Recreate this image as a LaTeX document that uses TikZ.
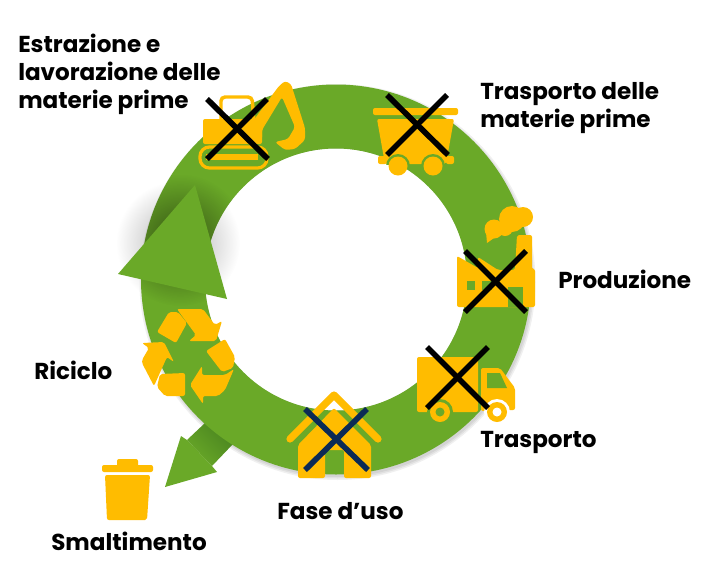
\documentclass[tikz,border=0pt]{standalone}
\usepackage{fontspec}
\setmainfont{Poppins}
\usetikzlibrary{fadings}
\definecolor{ringgreen}{HTML}{6AA928}
\definecolor{darkgreen}{HTML}{4A8520}
\definecolor{gold}{HTML}{FFBC00}
\definecolor{navy}{HTML}{0B2A55}
\tikzfading[name=softblob, inner color=transparent!50, outer color=transparent!100]
\tikzfading[name=softblobw, inner color=transparent!68, outer color=transparent!100]
\tikzset{
    mylabel/.style = {anchor=west, align=left, font=\bfseries\fontsize{17.3}{21}\selectfont, text=black, inner sep=0pt},
    icon/.style = {fill=gold, rounded corners=1.5pt},
    hole/.style = {fill=ringgreen},
    mycross/.style = {draw=black, line width=4.2pt},
    mycrossn/.style = {draw=navy, line width=4.2pt},
}
\begin{document}
\begin{tikzpicture}[x=0.75pt, y=-0.75pt]
\useasboundingbox (0,0) rectangle (714,586);
\fill[white] (0,0) rectangle (714,586);
% soft shadows
\foreach \r in {198,196.5,195}
    \fill[black, opacity=0.06] (337.5,282) circle[radius=\r];
\fill[white] (336,279.5) circle[radius=131];
\fill[black, path fading=softblobw] (178,243) circle[radius=62];
% arrow out to the bin
\fill[ringgreen] (187,440) -- (181,436) -- (165,487) -- (217,472) -- (212,466) -- cycle;
\shade[top color=darkgreen, bottom color=ringgreen, shading angle=315] (187,440) -- (212,466) -- (233,444) -- (205,423) -- cycle;
% ring
\fill[ringgreen, even odd rule] (336,279.5) circle[radius=195] (336,279.5) circle[radius=131];
\begin{scope}[even odd rule]
    \clip (336,279.5) circle[radius=195] (336,279.5) circle[radius=131];
    \fill[black, path fading=softblob] (180,240) circle[radius=66];
\end{scope}
\fill[ringgreen] (195,185) -- (118,274) -- (227,299) -- cycle;
%
% excavator
\fill[icon] (203,119) rectangle (262,144);
\draw[gold, line width=2.6pt, rounded corners=3pt] (221,122) -- (221,97) -- (252,97) -- (254,122);
\fill[gold, rounded corners=2pt] (250,125) -- (279,86) -- (285,81) -- (291,84) -- (305,128) -- (305,140) -- (295,149) -- (285,150) -- (275,142) -- (288,139) -- (295,127) -- (282,97) -- (262,130) -- (262,140) -- (250,140) -- cycle;
\draw[gold, line width=2.4pt, rounded corners=7pt] (200,147) rectangle (267,168);
\fill[gold] (206,154) rectangle (258,160);
% mine cart
\fill[icon] (373,108) rectangle (458,115);
\fill[icon] (377,119) -- (454,119) -- (446,164) -- (385,164) -- cycle;
\fill[icon] (378,156) rectangle (387,164);
\fill[icon] (446,156) rectangle (454,164);
\begin{scope}
    \clip (370,150) rectangle (460,164);
    \fill[hole] (398,166) circle[radius=12];
    \fill[hole] (433,166) circle[radius=12];
\end{scope}
\fill[gold] (398,166) circle[radius=9.5];
\fill[gold] (433,166) circle[radius=9.5];
% factory
\fill[gold] (494,229) circle[radius=9.5];
\fill[gold] (512,219) circle[radius=13];
\fill[gold] (523,217) circle[radius=10];
\fill[gold] (505,228) circle[radius=8];
\fill[gold] (486,232) -- (494,238) -- (487,243) -- cycle;
\fill[icon] (457,256) -- (457,307) -- (535,307) -- (535,269) -- (532,269) -- (532,235) -- (517,235) -- (515,270) -- (498,270) -- (478,257) -- (478,268) -- cycle;
\fill[hole] (467,281) rectangle (475,290);
\fill[hole] (482,281) rectangle (492,290);
\fill[hole] (508,287) rectangle (523,307);
% truck
\fill[icon] (417,357) rectangle (478,412);
\fill[icon] (481,368) -- (500,368) -- (515,388) -- (515,410) -- (481,411) -- cycle;
\fill[hole] (487,373) -- (500,373) -- (507,388) -- (487,388) -- cycle;
\fill[hole] (440,412) circle[radius=13];
\fill[gold] (440,412) circle[radius=10];
\fill[hole] (440,412) circle[radius=4.5];
\fill[white] (497,412) circle[radius=13];
\fill[gold] (497,412) circle[radius=10];
\fill[white] (497,412) circle[radius=4.5];
% house
\draw[gold, line width=5.4pt, line cap=round, line join=round] (290,439) -- (334,395) -- (378,439);
\fill[icon] (334,408) -- (371,445) -- (371,478) -- (344,478) -- (344,450) -- (325,450) -- (325,478) -- (298,478) -- (298,445) -- cycle;
% recycling sign
\fill[icon] (157,332) -- (169,312) -- (178,312) -- (187,323) -- (176,343) -- cycle;
\fill[icon] (177,309) -- (203,309) -- (215,325) -- (222,321) -- (216,341) -- (189,341) -- (196,335) -- cycle;
\fill[icon] (206,351) -- (225,339) -- (235,357) -- (233,368) -- (222,372) -- cycle;
\fill[icon] (234,369) -- (225,390) -- (218,396) -- (203,396) -- (203,404) -- (190,385) -- (202,366) -- (202,375) -- (225,375) -- cycle;
\fill[icon] (185,373) -- (185,396) -- (165,396) -- (157,387) -- (160,374) -- cycle;
\fill[icon] (142,343) -- (164,342) -- (174,362) -- (167,357) -- (154,386) -- (142,363) -- (142,360) -- (149,348) -- cycle;
% bin
\fill[icon] (117,459) rectangle (138,467);
\fill[icon] (102,465) rectangle (153,472);
\fill[icon] (105,475) -- (150,475) -- (147,520) -- (107,520) -- cycle;
%
% crosses
\draw[mycross] (207,99) -- (268,159);
\draw[mycross] (267,99) -- (207,159);
\draw[mycross] (387,95) -- (448,155);
\draw[mycross] (447,95) -- (387,155);
\draw[mycross] (465,251) -- (526,312);
\draw[mycross] (526,251) -- (465,312);
\draw[mycross] (427,347) -- (488,408);
\draw[mycross] (488,347) -- (427,408);
\draw[mycrossn] (305,409) -- (368,470);
\draw[mycrossn] (367,409) -- (305,470);
%
\node[mylabel] at (18,74) (estrazione) {Estrazione e\\lavorazione delle\\materie prime};
\node[mylabel] at (480,108) (materie) {Trasporto delle\\materie prime};
\node[mylabel] at (558,279) (produzione) {Produzione};
\node[mylabel] at (480,442) (trasporto) {Trasporto};
\node[mylabel] at (277,511) (uso) {Fase d’uso};
\node[mylabel] at (51,541) (smaltimento) {Smaltimento};
\node[mylabel] at (34,370) (riciclo) {Riciclo};
\end{tikzpicture}
\end{document}
